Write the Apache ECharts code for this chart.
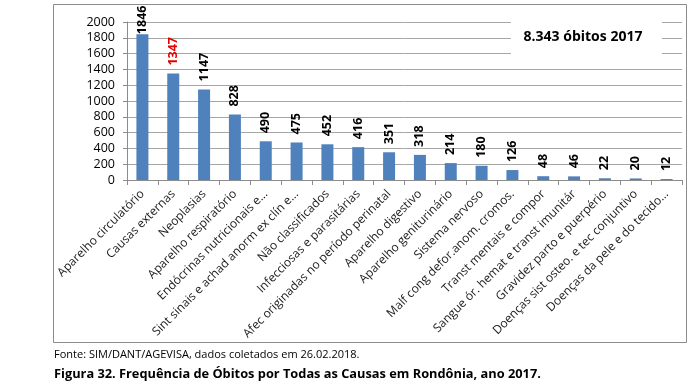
<!DOCTYPE html>
<html>
<head>
<meta charset="utf-8">
<script src="https://cdn.jsdelivr.net/npm/echarts@6/dist/echarts.min.js"></script>
<style>
html,body{margin:0;padding:0;background:#fff;}
#c{width:700px;height:386px;}
</style>
</head>
<body>
<div id="c"></div>
<script>
const categories = [
  "Aparelho circulatório",
  "Causas externas",
  "Neoplasias",
  "Aparelho respiratório",
  "Endócrinas nutricionais e...",
  "Sint sinais e achad anorm ex clín e...",
  "Não classificados",
  "Infecciosas e parasitárias",
  "Afec originadas no período perinatal",
  "Aparelho digestivo",
  "Aparelho geniturinário",
  "Sistema nervoso",
  "Malf cong defor.anom. cromos.",
  "Transt mentais e compor",
  "Sangue ór. hemat e transt imunitár",
  "Gravidez parto e puerpério",
  "Doenças sist osteo. e tec conjuntivo",
  "Doenças da pele e do tecido..."
];
const obitos = [1846, 1347, 1147, 828, 490, 475, 452, 416, 351, 318, 214, 180, 126, 48, 46, 22, 20, 12];
const yTicks = { min: 0, max: 2000, interval: 200 };
const boxText = "8.343 óbitos 2017";
const fonteText = "Fonte: SIM/DANT/AGEVISA, dados coletados em 26.02.2018.";
const figuraText = "Figura 32. Frequência de Óbitos por Todas as Causas em Rondônia, ano 2017.";

const FONT = "'Open Sans', 'Liberation Sans', sans-serif";
const chart = echarts.init(document.getElementById('c'), null, {renderer: 'canvas'});

const data = obitos.map((v, i) => {
  const d = { value: v };
  if (i === 0) d.label = { distance: 0 };
  if (i === 1) d.label = { color: '#e30000' };
  return d;
});

chart.setOption({
  animation: false,
  backgroundColor: '#fff',
  textStyle: { fontFamily: FONT },
  grid: { left: 127, right: 18, top: 22, bottom: 206, containLabel: false },
  xAxis: {
    type: 'category',
    data: categories,
    boundaryGap: true,
    axisLine: { show: true, lineStyle: { color: '#8c8c8c', width: 1 } },
    axisTick: { show: true, length: 5, lineStyle: { color: '#8c8c8c' } },
    axisLabel: { interval: 0, rotate: 45, fontSize: 12, color: '#1a1a1a', margin: 12, fontFamily: FONT }
  },
  yAxis: {
    type: 'value',
    min: yTicks.min, max: yTicks.max, interval: yTicks.interval,
    axisLine: { show: true, lineStyle: { color: '#8c8c8c', width: 1 } },
    axisTick: { show: true, length: 4, lineStyle: { color: '#8c8c8c' } },
    axisLabel: { fontSize: 12.5, color: '#000', margin: 12, fontFamily: FONT, formatter: v => String(v) },
    splitLine: { show: true, lineStyle: { color: '#a6a6a6', width: 1 } }
  },
  series: [{
    type: 'bar',
    data: data,
    barWidth: 12,
    itemStyle: { color: '#4f81bd' },
    label: {
      show: true,
      position: 'top',
      rotate: 90,
      align: 'left',
      verticalAlign: 'middle',
      distance: 8,
      fontSize: 12.5,
      fontWeight: 'bold',
      color: '#000',
      fontFamily: FONT
    }
  }],
  graphic: [
    { type: 'rect', z: 100, shape: { x: 53.5, y: 4.5, width: 633, height: 338 },
      style: { fill: 'none', stroke: '#8c8c8c', lineWidth: 1 } },
    { type: 'rect', z: 100, shape: { x: 511, y: 14, width: 151, height: 44 },
      style: { fill: '#fff', stroke: 'none' } },
    { type: 'text', z: 101, x: 583, y: 37,
      style: { text: boxText, fill: '#000', font: "bold 14px " + FONT, textAlign: 'center', textVerticalAlign: 'middle' } },
    { type: 'text', z: 101, x: 54, y: 355,
      style: { text: fonteText, fill: '#000', font: "11px " + FONT, textAlign: 'left', textVerticalAlign: 'middle' } },
    { type: 'text', z: 101, x: 54, y: 374,
      style: { text: figuraText, fill: '#000', font: "bold 12.8px " + FONT, textAlign: 'left', textVerticalAlign: 'middle' } }
  ]
});
</script>
</body>
</html>
